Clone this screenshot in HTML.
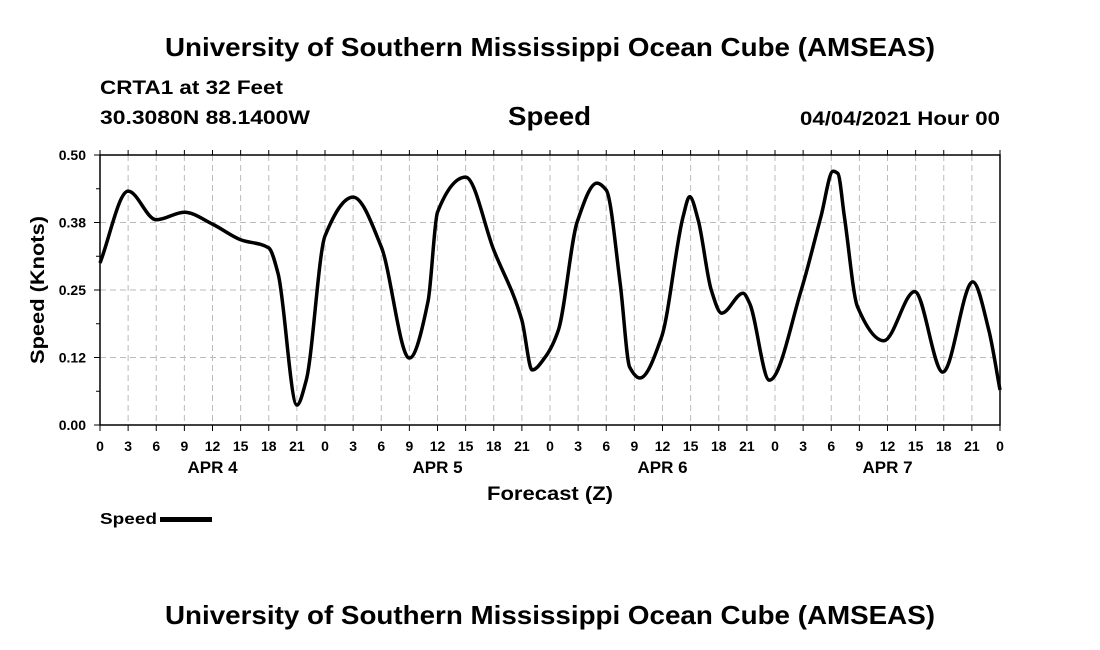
<!DOCTYPE html>
<html><head><meta charset="utf-8"><style>
body{margin:0;background:#fff;}
svg{display:block;font-family:"Liberation Sans",Arial,sans-serif;}
</style></head><body>
<svg id="chart" width="1100" height="650" viewBox="0 0 1100 650">
<text x="165" y="56" font-size="26" font-weight="bold" textLength="770" lengthAdjust="spacingAndGlyphs">University of Southern Mississippi Ocean Cube (AMSEAS)</text>
<text x="100" y="94" font-size="19" font-weight="bold" textLength="183" lengthAdjust="spacingAndGlyphs">CRTA1 at 32 Feet</text>
<text x="100" y="124" font-size="19" font-weight="bold" textLength="210" lengthAdjust="spacingAndGlyphs">30.3080N  88.1400W</text>
<text x="508" y="125" font-size="26" font-weight="bold" textLength="83" lengthAdjust="spacingAndGlyphs">Speed</text>
<text x="800" y="125" font-size="19" font-weight="bold" textLength="200" lengthAdjust="spacingAndGlyphs">04/04/2021 Hour 00</text>
<g id="grid"></g>
<g id="axes"></g>
<path id="line" fill="none" stroke="#000" stroke-width="3.5" stroke-linejoin="round"></path>
<text transform="translate(44,290) rotate(-90)" text-anchor="middle" font-size="19" font-weight="bold" textLength="148" lengthAdjust="spacingAndGlyphs">Speed (Knots)</text>
<text x="487" y="500" font-size="19" font-weight="bold" textLength="126" lengthAdjust="spacingAndGlyphs">Forecast (Z)</text>
<g>
<text x="100" y="524" font-size="16" font-weight="bold" textLength="57" lengthAdjust="spacingAndGlyphs">Speed</text>
<rect x="160" y="517" width="52" height="5" fill="#000"></rect>
</g>
<text x="165" y="624" font-size="26" font-weight="bold" textLength="770" lengthAdjust="spacingAndGlyphs">University of Southern Mississippi Ocean Cube (AMSEAS)</text>
</svg>
<script>
const hours=[0,3,6,9,12,15,18,19,21,22,24,27,30,33,35,36,39,42,45,46.1,47.5,48.9,50.9,53,54,55.5,56.5,57.6,59.9,62.2,62.9,63.8,65.2,66.3,68.6,69.3,71.4,74.8,76.9,78.2,78.7,79.4,80.8,83.6,86.9,89.9,93.1,94.8,96];
const speeds=[0.30,0.433,0.38,0.394,0.372,0.343,0.328,0.28,0.037,0.083,0.35,0.422,0.33,0.124,0.23,0.394,0.459,0.324,0.194,0.102,0.126,0.176,0.376,0.448,0.435,0.26,0.107,0.087,0.163,0.386,0.423,0.38,0.25,0.207,0.244,0.225,0.083,0.25,0.386,0.47,0.466,0.386,0.219,0.156,0.247,0.098,0.265,0.176,0.065];
const yTicks=[0,0.125,0.25,0.375,0.5];
const yTickLabels=["0.00","0.12","0.25","0.38","0.50"];
const xTickLabels=["0","3","6","9","12","15","18","21","0","3","6","9","12","15","18","21","0","3","6","9","12","15","18","21","0","3","6","9","12","15","18","21","0"];
const dayLabels=["APR 4","APR 5","APR 6","APR 7"];
const X0=100,X1=1000,Y0=425,Y1=155,HMAX=96,VMAX=0.5;
const xs=h=>X0+(X1-X0)*h/HMAX;
const ys=v=>Y0-(Y0-Y1)*v/VMAX;
const NS="http://www.w3.org/2000/svg";
function mk(tag,attrs,parent){const e=document.createElementNS(NS,tag);for(const k in attrs)e.setAttribute(k,attrs[k]);parent.appendChild(e);return e;}
const grid=document.getElementById('grid'),axes=document.getElementById('axes');
xTickLabels.forEach((lab,i)=>{
 const x=xs(i*3);
 if(i>0&&i<xTickLabels.length-1){const g=mk('line',{x1:x,x2:x,y1:Y1,y2:Y0,stroke:'#bbb','stroke-dasharray':'6,4'},grid);
 
 }
 const t1=mk('line',{x1:x,x2:x,y1:Y0,y2:Y0+6,stroke:'#000'},axes);
 
 
 const t2=mk('line',{x1:x,x2:x,y1:Y1,y2:Y1-5,stroke:'#000'},axes);
 
 
 const t=mk('text',{x:x,y:451,'text-anchor':'middle','font-size':14,'font-weight':'bold'},axes);t.textContent=lab;
 
 
});
dayLabels.forEach((d,i)=>{
 const t=mk('text',{x:xs(i*24+12),y:473,'text-anchor':'middle','font-size':17,'font-weight':'bold'},axes);t.textContent=d;
 
 
});
yTicks.forEach((v,i)=>{
 const y=ys(v);
 if(i>0&&i<yTicks.length-1){const g=mk('line',{x1:X0,x2:X1,y1:y,y2:y,stroke:'#bbb','stroke-dasharray':'6,4'},grid);
 
 }
 const tk=mk('line',{x1:X0-6,x2:X0,y1:y,y2:y,stroke:'#000'},axes);
 
 
 const t=mk('text',{x:86,y:y+5,'text-anchor':'end','font-size':14,'font-weight':'bold'},axes);t.textContent=yTickLabels[i];
 
 
 if(i<yTicks.length-1){const ym=ys(v+0.0625);const m=mk('line',{x1:X0-4,x2:X0,y1:ym,y2:ym,stroke:'#000'},axes);
 
 }
});
const fr=mk('rect',{x:X0,y:Y1,width:X1-X0,height:Y0-Y1,fill:'none',stroke:'#000','stroke-width':1.5},axes);


// monotone cubic (Fritsch-Carlson)
const P=hours.map((h,i)=>[xs(h),ys(speeds[i])]);
const n=P.length,dl=[],m=[];
for(let i=0;i<n-1;i++)dl.push((P[i+1][1]-P[i][1])/(P[i+1][0]-P[i][0]));
for(let i=0;i<n;i++){
 if(i===0)m.push(dl[0]);else if(i===n-1)m.push(dl[n-2]);
 else if(dl[i-1]*dl[i]<=0)m.push(0);
 else{const h0=P[i][0]-P[i-1][0],h1=P[i+1][0]-P[i][0];const w1=2*h1+h0,w2=h1+2*h0;m.push((w1+w2)/(w1/dl[i-1]+w2/dl[i]));}
}
let d='M'+P[0][0]+','+P[0][1];
for(let i=0;i<n-1;i++){
 const h=(P[i+1][0]-P[i][0])/3;
 d+=` C${P[i][0]+h},${P[i][1]+m[i]*h} ${P[i+1][0]-h},${P[i+1][1]-m[i+1]*h} ${P[i+1][0]},${P[i+1][1]}`;
}
document.getElementById('line').setAttribute('d',d);
</script>
</body></html>
